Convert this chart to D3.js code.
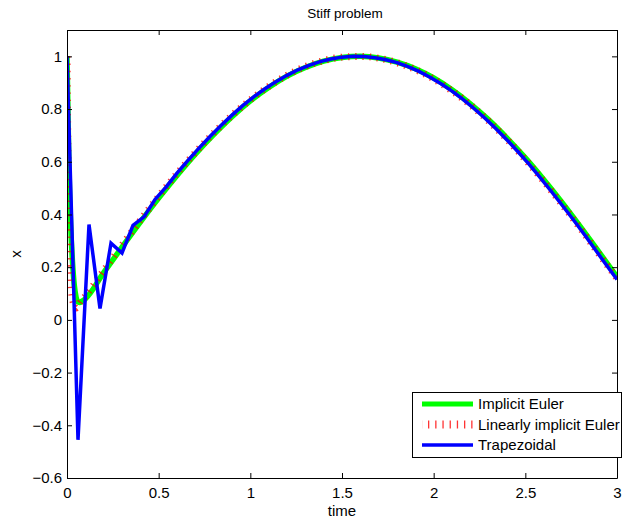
<!DOCTYPE html>
<html>
<head>
<meta charset="utf-8">
<script src="https://cdn.jsdelivr.net/npm/d3@7"></script>
<style>
  html, body { margin: 0; padding: 0; background: #fff; }
  svg { display: block; font-family: "Liberation Sans", Arial, Helvetica, sans-serif; }
</style>
</head>
<body>
<svg id="chart" width="625" height="521"></svg>
<script>
// ---- data ----
const xTicks = [0, 0.5, 1, 1.5, 2, 2.5, 3];
const xTickLabels = ["0", "0.5", "1", "1.5", "2", "2.5", "3"];
const yTicks = [-0.6, -0.4, -0.2, 0, 0.2, 0.4, 0.6, 0.8, 1];
const yTickLabels = ["\u22120.6", "\u22120.4", "\u22120.2", "0", "0.2", "0.4", "0.6", "0.8", "1"];

// Implicit Euler (green)
const implicitT = [0, 0.01, 0.02, 0.03, 0.04, 0.05, 0.06, 0.07, 0.08, 0.1,
  0.2, 0.3, 0.4, 0.5, 0.6, 0.7, 0.8, 0.9, 1.0, 1.1, 1.2, 1.3, 1.4, 1.5,
  1.6, 1.7, 1.8, 1.9, 2.0, 2.1, 2.2, 2.3, 2.4, 2.5, 2.6, 2.7, 2.8, 2.9, 3.0];
const implicitX = [1, 0.60, 0.36, 0.22, 0.13, 0.085, 0.068, 0.066, 0.070, 0.080,
  0.179, 0.276, 0.371, 0.462, 0.548, 0.629, 0.703, 0.771, 0.831, 0.882, 0.925, 0.958, 0.982, 0.996,
  1.000, 0.994, 0.978, 0.953, 0.918, 0.873, 0.820, 0.759, 0.690, 0.615, 0.533, 0.446, 0.354, 0.259, 0.163];

// Linearly implicit Euler (red)
const linImplicitT = [0, 0.01, 0.02, 0.03, 0.04, 0.05, 0.06, 0.07, 0.08, 0.1,
  0.2, 0.3, 0.4, 0.5, 0.6, 0.7, 0.8, 0.9, 1.0, 1.1, 1.2, 1.3, 1.4, 1.5,
  1.6, 1.7, 1.8, 1.9, 2.0, 2.1, 2.2, 2.3, 2.4, 2.5, 2.6, 2.7, 2.8, 2.9, 3.0];
const linImplicitX = [1, 0.35, 0.15, 0.08, 0.055, 0.045, 0.052, 0.064, 0.073, 0.090,
  0.187, 0.284, 0.378, 0.469, 0.555, 0.635, 0.709, 0.776, 0.835, 0.886, 0.928, 0.961, 0.984, 0.997,
  1.000, 0.993, 0.976, 0.950, 0.914, 0.869, 0.816, 0.754, 0.685, 0.608, 0.526, 0.438, 0.347, 0.251, 0.157];

// Trapezoidal (blue), step 0.06
const trapT = [0, 0.06, 0.12, 0.18, 0.24, 0.30, 0.36, 0.42, 0.48, 0.54, 0.60, 0.66, 0.72, 0.78, 0.84,
  0.90, 0.96, 1.02, 1.08, 1.14, 1.20, 1.26, 1.32, 1.38, 1.44, 1.50, 1.56, 1.62, 1.68, 1.74, 1.80,
  1.86, 1.92, 1.98, 2.04, 2.10, 2.16, 2.22, 2.28, 2.34, 2.40, 2.46, 2.52, 2.58, 2.64, 2.70, 2.76,
  2.82, 2.88, 2.94, 3.00];
const trapX = [1, -0.455, 0.362, 0.043, 0.291, 0.254, 0.359, 0.391, 0.457, 0.504, 0.557, 0.605, 0.652, 0.696, 0.738,
  0.777, 0.814, 0.847, 0.877, 0.904, 0.928, 0.949, 0.966, 0.980, 0.990, 0.997, 1.000, 0.999, 0.995, 0.987, 0.976,
  0.961, 0.943, 0.921, 0.896, 0.868, 0.837, 0.802, 0.765, 0.725, 0.683, 0.638, 0.591, 0.541, 0.489, 0.436, 0.382,
  0.326, 0.268, 0.210, 0.153];

const seriesNames = ["Implicit Euler", "Linearly implicit Euler", "Trapezoidal"];

// ---- layout ----
const svg = d3.select("#chart");
const L = 67, R = 617, T = 30, B = 478;
const x = d3.scaleLinear().domain([0, 3]).range([L, R]);
const y = d3.scaleLinear().domain([-0.6, 1.1]).range([B, T]);
const fontSize = 15;

svg.append("defs").append("clipPath").attr("id", "plotclip")
  .append("rect").attr("x", L).attr("y", T).attr("width", R - L).attr("height", B - T);

// plot background
svg.append("rect").attr("x", L).attr("y", T).attr("width", R - L).attr("height", B - T).attr("fill", "#fff");

const lines = svg.append("g").attr("clip-path", "url(#plotclip)");
const zip = (ts, xs) => ts.map((t, i) => [t, xs[i]]);

lines.append("path")
  .datum(zip(implicitT, implicitX))
  .attr("fill", "none").attr("stroke", "#00ff00").attr("stroke-width", 5.5)
  .attr("stroke-linejoin", "round")
  .attr("d", d3.line().x(d => x(d[0])).y(d => y(d[1])).curve(d3.curveMonotoneX));

lines.append("path")
  .datum(zip(linImplicitT, linImplicitX))
  .attr("fill", "none").attr("stroke", "#ff0000").attr("stroke-opacity", 0.8).attr("stroke-width", 7)
  .attr("stroke-dasharray", "1.3,5.9")
  .attr("d", d3.line().x(d => x(d[0])).y(d => y(d[1])).curve(d3.curveMonotoneX));

lines.append("path")
  .datum(zip(trapT, trapX))
  .attr("fill", "none").attr("stroke", "#0000ff").attr("stroke-width", 3.5)
  .attr("stroke-linejoin", "miter")
  .attr("d", d3.line().x(d => x(d[0])).y(d => y(d[1])));

// ---- axes ----
const fmtX = d => xTickLabels[xTicks.indexOf(d)];
const fmtY = d => yTickLabels[yTicks.indexOf(d)];

const gB = svg.append("g").attr("transform", `translate(0,${B})`)
  .call(d3.axisBottom(x).tickValues(xTicks).tickFormat(fmtX).tickSizeInner(-5).tickSizeOuter(0).tickPadding(9));
const gT = svg.append("g").attr("transform", `translate(0,${T})`)
  .call(d3.axisTop(x).tickValues(xTicks).tickFormat("").tickSizeInner(-5).tickSizeOuter(0));
const gL = svg.append("g").attr("transform", `translate(${L},0)`)
  .call(d3.axisLeft(y).tickValues(yTicks).tickFormat(fmtY).tickSizeInner(-5).tickSizeOuter(0).tickPadding(5));
const gR = svg.append("g").attr("transform", `translate(${R},0)`)
  .call(d3.axisRight(y).tickValues(yTicks).tickFormat("").tickSizeInner(-5).tickSizeOuter(0));

[gB, gT, gL, gR].forEach(g => {
  g.selectAll("path.domain").attr("stroke", "#000").attr("stroke-width", 1);
  g.selectAll(".tick line").attr("stroke", "#000");
  g.selectAll("text").attr("fill", "#000").style("font-size", fontSize + "px")
    .style("font-family", '"Liberation Sans", Arial, Helvetica, sans-serif');
});

// axis labels & title
svg.append("text").attr("x", (L + R) / 2).attr("y", 516).attr("text-anchor", "middle")
  .style("font-size", fontSize + "px").text("time");
svg.append("text").attr("transform", `translate(21,${(T + B) / 2}) rotate(-90)`).attr("text-anchor", "middle")
  .style("font-size", fontSize + "px").text("x");
svg.append("text").attr("x", (L + R) / 2 + 3).attr("y", 18).attr("text-anchor", "middle")
  .style("font-size", "13.5px").text("Stiff problem");

// ---- legend ----
const lg = svg.append("g");
lg.append("rect").attr("x", 412.5).attr("y", 392.5).attr("width", 209).attr("height", 65)
  .attr("fill", "#fff").attr("stroke", "#000").attr("stroke-width", 1);
const legendStyles = [
  { stroke: "#00ff00", width: 5, dash: null, op: 1 },
  { stroke: "#ff0000", width: 8, dash: "1.3,5.9", op: 0.8 },
  { stroke: "#0000ff", width: 3.5, dash: null, op: 1 }
];
seriesNames.forEach((name, i) => {
  const cy = 404 + i * 20.5;
  const s = legendStyles[i];
  const ln = lg.append("line").attr("x1", 422).attr("x2", 473).attr("y1", cy).attr("y2", cy)
    .attr("stroke", s.stroke).attr("stroke-width", s.width).attr("stroke-opacity", s.op);
  if (s.dash) ln.attr("stroke-dasharray", s.dash).attr("stroke-dashoffset", -6);
  lg.append("text").attr("x", 478).attr("y", cy).attr("dy", "0.35em")
    .style("font-size", fontSize + "px").text(name);
});
</script>
</body>
</html>
